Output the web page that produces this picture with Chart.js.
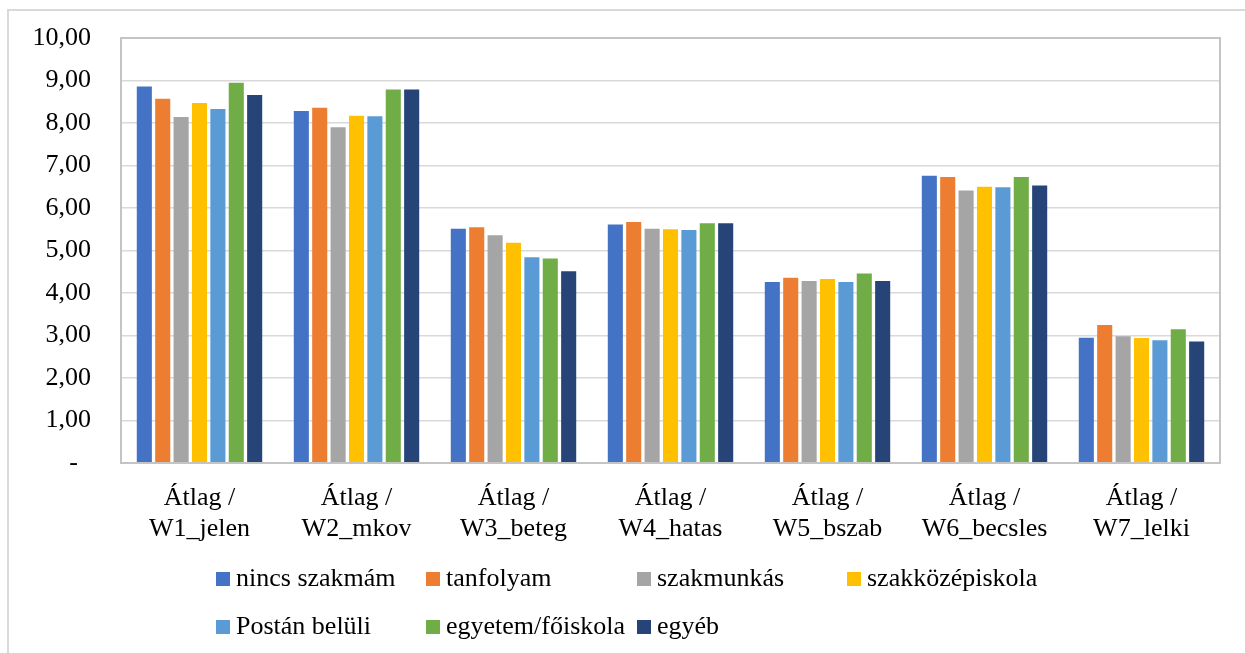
<!DOCTYPE html>
<html>
<head>
<meta charset="utf-8">
<script src="https://cdn.jsdelivr.net/npm/chart.js@4.4.1/dist/chart.umd.min.js"></script>
<style>
  html, body { margin: 0; padding: 0; background: #fff; }
  #wrap { position: relative; width: 1245px; height: 653px; overflow: hidden; }
  #frame { position: absolute; left: 7px; top: 9px; width: 1300px; height: 700px; border: 2px solid #d9d9d9; box-sizing: border-box; }
  canvas { position: absolute; left: 0; top: 0; }
  .lg { position: absolute; font-family: 'Liberation Serif', 'Times New Roman', serif; font-size: 26px; color: #000; line-height: 30px; white-space: nowrap; }
  .sw { position: absolute; width: 14px; height: 14px; }
</style>
</head>
<body>
<div id="wrap">
  <div id="frame"></div>
  <canvas id="c" width="1245" height="653"></canvas>
  <div id="legend"></div>
</div>
<script>
const categories = [
  ['Átlag /', 'W1_jelen'],
  ['Átlag /', 'W2_mkov'],
  ['Átlag /', 'W3_beteg'],
  ['Átlag /', 'W4_hatas'],
  ['Átlag /', 'W5_bszab'],
  ['Átlag /', 'W6_becsles'],
  ['Átlag /', 'W7_lelki']
];
const seriesNames = ['nincs szakmám', 'tanfolyam', 'szakmunkás', 'szakközépiskola', 'Postán belüli', 'egyetem/főiskola', 'egyéb'];
const seriesColors = ['#4472C4', '#ED7D31', '#A5A5A5', '#FFC000', '#5B9BD5', '#70AD47', '#264478'];
const nincsSzakmam   = [8.86, 8.28, 5.51, 5.61, 4.26, 6.76, 2.95];
const tanfolyam      = [8.57, 8.36, 5.55, 5.67, 4.36, 6.73, 3.25];
const szakmunkas     = [8.14, 7.90, 5.36, 5.51, 4.28, 6.41, 2.98];
const szakkozepiskola= [8.47, 8.17, 5.18, 5.50, 4.33, 6.50, 2.94];
const postanBeluli   = [8.33, 8.16, 4.84, 5.48, 4.26, 6.49, 2.89];
const egyetem        = [8.95, 8.79, 4.81, 5.64, 4.46, 6.73, 3.15];
const egyeb          = [8.66, 8.79, 4.51, 5.64, 4.28, 6.53, 2.86];
const seriesValues = [nincsSzakmam, tanfolyam, szakmunkas, szakkozepiskola, postanBeluli, egyetem, egyeb];
const yTickLabels = ['-\u00a0\u00a0', '1,00', '2,00', '3,00', '4,00', '5,00', '6,00', '7,00', '8,00', '9,00', '10,00'];

const FONT = "'Liberation Serif', 'Times New Roman', serif";

const borderPlugin = {
  id: 'plotBorder',
  afterDraw(chart) {
    const a = chart.chartArea, ctx = chart.ctx;
    ctx.save();
    ctx.strokeStyle = '#c4c4c4';
    ctx.lineWidth = 2;
    ctx.strokeRect(a.left, a.top, a.right - a.left, a.bottom - a.top);
    ctx.restore();
  }
};

new Chart(document.getElementById('c'), {
  type: 'bar',
  data: {
    labels: categories,
    datasets: seriesNames.map((n, i) => ({
      label: n,
      data: seriesValues[i],
      backgroundColor: seriesColors[i],
      borderWidth: 0,
      categoryPercentage: 0.82,
      barPercentage: 0.82
    }))
  },
  options: {
    responsive: false,
    animation: false,
    devicePixelRatio: 1,
    layout: { padding: { top: 38, right: 25, left: 0, bottom: 0 } },
    plugins: { legend: { display: false }, tooltip: { enabled: false } },
    scales: {
      x: {
        grid: { display: false, drawTicks: false },
        border: { display: false },
        ticks: { color: '#000', font: { family: FONT, size: 26, lineHeight: 1.19 }, padding: 20, maxRotation: 0, autoSkip: false },
        afterFit(s) { s.height = 190; }
      },
      y: {
        min: 0, max: 10,
        grid: { color: '#d9d9d9', lineWidth: 1.5, drawTicks: false },
        border: { display: false },
        ticks: {
          stepSize: 1,
          color: '#000',
          font: { family: FONT, size: 26 },
          padding: 30,
          callback: (v, i) => yTickLabels[i]
        },
        afterFit(s) { s.width = 121; s.paddingTop = 0; s.paddingBottom = 0; }
      }
    }
  },
  plugins: [borderPlugin]
});

// legend (Excel-style column layout)
const legendPos = [
  { sq: 216, tx: 236, y: 563 },
  { sq: 426, tx: 446, y: 563 },
  { sq: 637, tx: 657, y: 563 },
  { sq: 847, tx: 867, y: 563 },
  { sq: 216, tx: 236, y: 611 },
  { sq: 426, tx: 446, y: 611 },
  { sq: 637, tx: 657, y: 611 }
];
const lg = document.getElementById('legend');
seriesNames.forEach((n, i) => {
  const p = legendPos[i];
  const sw = document.createElement('div');
  sw.className = 'sw';
  sw.style.left = p.sq + 'px';
  sw.style.top = (p.y + 9) + 'px';
  sw.style.background = seriesColors[i];
  lg.appendChild(sw);
  const t = document.createElement('div');
  t.className = 'lg';
  t.style.left = p.tx + 'px';
  t.style.top = p.y + 'px';
  t.textContent = n;
  lg.appendChild(t);
});
</script>
</body>
</html>
